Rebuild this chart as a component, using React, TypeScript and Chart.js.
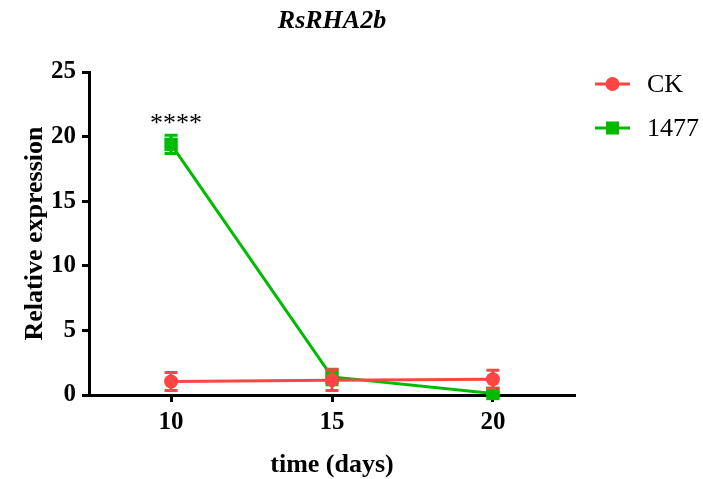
import React, { useEffect, useRef } from "react";
import { Chart, registerables } from "chart.js";

Chart.register(...registerables);

const chartTitle = "RsRHA2b";
const xTitle = "time (days)";
const yTitle = "Relative expression";
const days = [10, 15, 20];
const xTicks = [10, 15, 20];
const seriesNames = ["CK", "1477"];
const ckMean = [1.05, 1.15, 1.22];
const ckErr = [0.7, 0.8, 0.7];
const m1477Mean = [19.4, 1.4, 0.12];
const m1477Err = [0.7, 0.6, 0.1];
const sigLabel = "****";
const sigX = 10;
const sigY = 21.3;

const RED = "#FF4444";
const GREEN = "#00BB00";
const SERIF = "'Liberation Serif', 'Times New Roman', serif";

const errors = [ckErr, m1477Err];

const decorPlugin = {
  id: "decor",
  afterDatasetDraw(chart: any, args: any) {
    const ctx = chart.ctx;
    const i = args.index;
    const ds = chart.data.datasets[i];
    const xs = chart.scales.x;
    const ys = chart.scales.y;
    const errs = errors[i];
    ctx.save();
    ctx.strokeStyle = ds.borderColor;
    ctx.lineWidth = 3;
    ds.data.forEach((p: any, j: number) => {
      const x = xs.getPixelForValue(p.x);
      const yt = ys.getPixelForValue(p.y + errs[j]);
      const yb = ys.getPixelForValue(p.y - errs[j]);
      ctx.beginPath();
      ctx.moveTo(x, yt);
      ctx.lineTo(x, yb);
      ctx.moveTo(x - 6.5, yt);
      ctx.lineTo(x + 6.5, yt);
      ctx.moveTo(x - 6.5, yb);
      ctx.lineTo(x + 6.5, yb);
      ctx.stroke();
    });
    ctx.restore();
  },
  afterDraw(chart: any) {
    const ctx = chart.ctx;
    const ca = chart.chartArea;
    const xs = chart.scales.x;
    const ys = chart.scales.y;
    const cx = (ca.left + ca.right) / 2;
    ctx.save();
    ctx.fillStyle = "#000";
    ctx.textAlign = "center";
    ctx.textBaseline = "middle";
    ctx.font = `italic bold 26px ${SERIF}`;
    ctx.fillText(chartTitle, cx, 21);
    ctx.font = `bold 26px ${SERIF}`;
    ctx.fillText(xTitle, cx, 465);
    ctx.save();
    ctx.translate(35, (ca.top + ca.bottom) / 2);
    ctx.rotate(-Math.PI / 2);
    ctx.fillText(yTitle, 0, 0);
    ctx.restore();
    ctx.font = `26px ${SERIF}`;
    ctx.fillText(sigLabel, xs.getPixelForValue(sigX) + 5, ys.getPixelForValue(sigY) + 4);
    // legend
    chart.data.datasets.forEach((ds: any, i: number) => {
      const y = 84 + i * 44;
      ctx.strokeStyle = ds.borderColor;
      ctx.fillStyle = ds.borderColor;
      ctx.lineWidth = 3;
      ctx.beginPath();
      ctx.moveTo(595, y);
      ctx.lineTo(630, y);
      ctx.stroke();
      if (ds.pointStyle === "rect") {
        ctx.fillRect(606, y - 6.5, 13, 13);
      } else {
        ctx.beginPath();
        ctx.arc(612.5, y, 7, 0, Math.PI * 2);
        ctx.fill();
      }
      ctx.fillStyle = "#000";
      ctx.textAlign = "left";
      ctx.font = `26px ${SERIF}`;
      ctx.fillText(ds.label, 647, y + 1);
    });
    ctx.restore();
  },
};

export default function App() {
  const ref = useRef<HTMLCanvasElement>(null);
  useEffect(() => {
    const means = [ckMean, m1477Mean];
    const colors = [RED, GREEN];
    const styles = ["circle", "rect"];
    const radii = [7, 9.5];
    const chart = new Chart(ref.current as HTMLCanvasElement, {
      type: "line",
      data: {
        datasets: seriesNames.map((name, i) => ({
          label: name,
          data: days.map((d, j) => ({ x: d, y: means[i][j] })),
          borderColor: colors[i],
          backgroundColor: colors[i],
          pointBackgroundColor: colors[i],
          pointBorderColor: colors[i],
          pointBorderWidth: 0,
          pointStyle: styles[i] as any,
          pointRadius: radii[i],
          borderWidth: 3,
          tension: 0,
          clip: false as any,
        })),
      },
      options: {
        animation: false,
        responsive: true,
        maintainAspectRatio: false,
        layout: { padding: { left: 0, top: 72, right: 128, bottom: 0 } },
        plugins: {
          legend: { display: false },
          tooltip: { enabled: false },
          title: { display: false },
        },
        scales: {
          x: {
            type: "linear",
            min: 7.45,
            max: 22.55,
            afterBuildTicks: (scale: any) => {
              scale.ticks = xTicks.map((v) => ({ value: v }));
            },
            afterFit: (scale: any) => {
              scale.height = 84;
            },
            grid: {
              display: true,
              drawOnChartArea: false,
              drawTicks: true,
              tickLength: 7,
              tickWidth: 3,
              tickColor: "#000",
            },
            border: { display: true, color: "#000", width: 3 },
            ticks: {
              color: "#000",
              padding: 6,
              maxRotation: 0,
              font: { family: SERIF, size: 25, weight: "bold" },
            },
          },
          y: {
            type: "linear",
            min: 0,
            max: 25,
            afterFit: (scale: any) => {
              scale.width = 89;
            },
            grid: {
              display: true,
              drawOnChartArea: false,
              drawTicks: true,
              tickLength: 7,
              tickWidth: 3,
              tickColor: "#000",
            },
            border: { display: true, color: "#000", width: 3 },
            ticks: {
              stepSize: 5,
              color: "#000",
              padding: 6,
              font: { family: SERIF, size: 25, weight: "bold" },
            },
          },
        },
      },
      plugins: [decorPlugin],
    });
    return () => chart.destroy();
  }, []);
  return (
    <div style={{ position: "fixed", left: 0, top: 0, width: 703, height: 479, background: "#fff" }}>
      <canvas ref={ref} />
    </div>
  );
}
